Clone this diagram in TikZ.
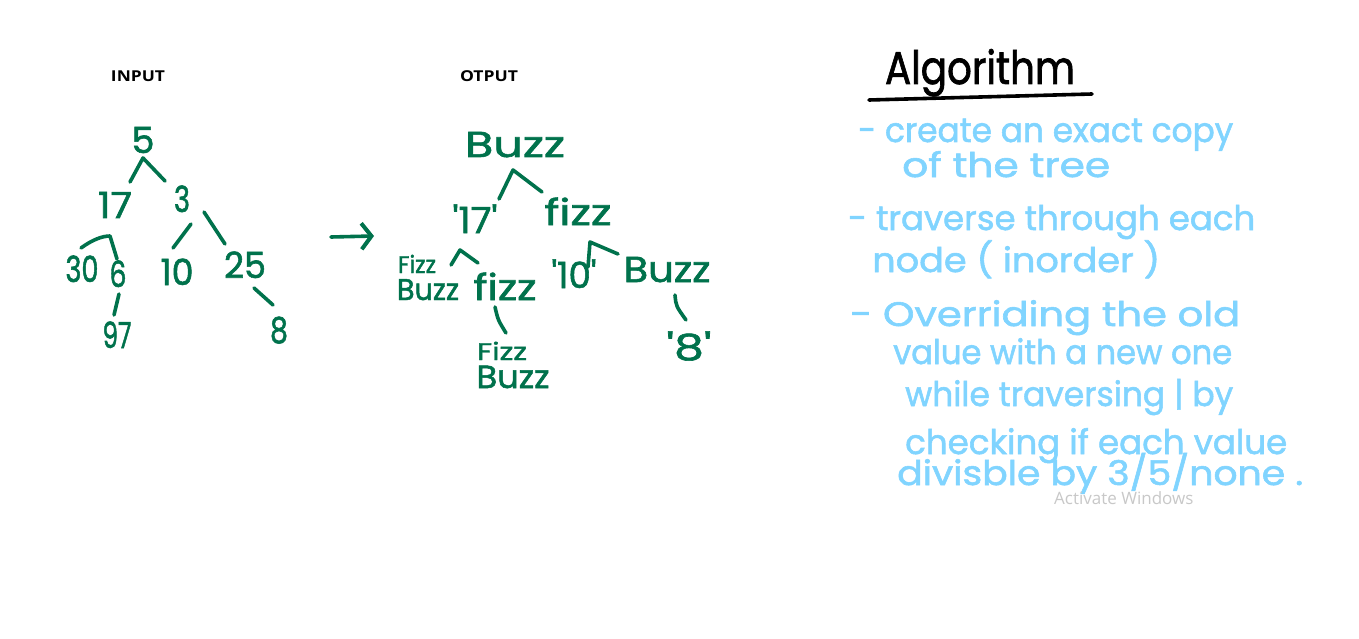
\documentclass[tikz,border=0pt]{standalone}
\usepackage{fontspec}
\usepackage{graphicx}
\setmainfont{Poppins}[FakeBold=1.6]
\newfontfamily\labfont{Open Sans}
\usetikzlibrary{arrows.meta}
\definecolor{tgreen}{RGB}{0,114,76}
\definecolor{tblue}{RGB}{128,212,255}
\definecolor{wmgray}{RGB}{200,200,200}
\newcommand{\hw}[2]{\resizebox{#1pt}{\height}{#2}}
\newcommand{\q}{\textquotesingle}
\begin{document}
\begin{tikzpicture}[x=1pt,y=-1pt,
  glab/.style={text=tgreen,inner sep=0pt,anchor=base,font=\fontsize{36}{38}\selectfont},
  gsmall/.style={glab,font=\fontsize{24}{26}\selectfont},
  blab/.style={text=tblue,inner sep=0pt,anchor=base west,font=\fontsize{34}{36}\selectfont},
  title/.style={inner sep=0pt,anchor=base,font=\labfont\bfseries\fontsize{15}{17}\selectfont},
  gstroke/.style={draw=tgreen,line width=3.6pt,line cap=round,line join=round},
  kstroke/.style={draw=black,line width=3.6pt,line cap=round}]
\useasboundingbox[fill=white] (0,0) rectangle (1359,639);

% titles
\node[title] (tin) at (138,82) {\hw{54}{INPUT}};
\node[title] (tout) at (489,82) {\hw{58}{OTPUT}};

% input tree
\node[glab] (i5) at (143,153) {\hw{23}{5}};
\node[glab] (i17) at (115,218) {\hw{34}{17}};
\node[glab] (i3) at (182,212) {\hw{16}{3}};
\node[glab] (i30) at (82,282) {\hw{33}{30}};
\node[glab] (i6) at (118,287) {\hw{17}{6}};
\node[glab] (i10) at (177,285) {\hw{33}{10}};
\node[glab] (i25) at (245,278) {\hw{42}{25}};
\node[glab] (i97) at (117,348) {\hw{29}{97}};
\node[glab] (i8) at (279,343) {\hw{18}{8}};

\draw[gstroke] (130,182) -- (143,158) -- (165,181);
\draw[gstroke] (191,224) -- (173,248);
\draw[gstroke] (204,212) -- (225,244);
\draw[gstroke] (81,248) .. controls (92,240) and (102,236) .. (110,236) -- (117,259);
\draw[gstroke] (119,294) -- (114,315);
\draw[gstroke] (254,288) -- (273,305);

% arrow
\coordinate (a1) at (331,237);
\coordinate (a2) at (374,236);
\draw[gstroke,-{Straight Barb[length=10pt,width=26pt,line width=4pt]}] (a1) -- (a2);

% output tree
\node[glab] (oB) at (515,157) {\hw{100}{Buzz}};
\node[glab] (o17) at (475,233) {\hw{45}{\q17\q}};
\node[glab] (oF) at (578,225) {\hw{67}{fizz}};
\node[gsmall] (oFBa) at (417,273) {\hw{38}{Fizz}};
\node[glab,font=\fontsize{30}{32}\selectfont] (oFBb) at (428,300) {\hw{62}{Buzz}};
\node[glab] (oF2) at (505,300) {\hw{63}{fizz}};
\node[glab] (o10) at (574,288) {\hw{45}{\q10\q}};
\node[glab] (oB2) at (667,282) {\hw{87}{Buzz}};
\node[glab] (o8) at (689,360) {\hw{45}{\q8\q}};
\node[gsmall] (oFB2a) at (502,360) {\hw{50}{Fizz}};
\node[glab,font=\fontsize{32}{34}\selectfont] (oFB2b) at (513,388) {\hw{73}{Buzz}};

\draw[gstroke] (499,199) -- (513,170) -- (542,192);
\draw[gstroke] (451,265) -- (460,250) -- (478,263);
\draw[gstroke] (588,267) -- (590,242) -- (618,254);
\draw[gstroke] (675,295) .. controls (676,306) .. (686,320);
\draw[gstroke] (495,307) .. controls (498,320) .. (506,333);

% algorithm
\node[inner sep=0pt,anchor=base,font=\fontsize{46}{48}\selectfont] (alg) at (980,84) {\hw{190}{Algorithm}};
\coordinate (u1) at (869,100);
\coordinate (u2) at (1092,94);
\draw[kstroke] (u1) -- (u2);

\node[blab] (l1) at (858,142) {\hw{375}{- create an exact copy}};
\node[blab] (l2) at (902,177) {\hw{208}{of the tree}};
\node[blab] (l3) at (848,230) {\hw{407}{- traverse through each}};
\node[blab] (l4) at (872,272) {\hw{288}{node ( inorder )}};
\node[blab] (l5) at (850,326) {\hw{390}{- Overriding the old}};
\node[blab] (l6) at (893,364) {\hw{339}{value with a new one}};
\node[blab] (l7) at (905,406) {\hw{328}{while traversing | by}};
\node[blab] (l8) at (905,454) {\hw{382}{checking if each value}};
\node[blab] (l9) at (897,485) {\hw{406}{divisble by 3/5/none .}};

% watermark
\begin{scope}
\clip (1040,484) rectangle (1230,506);
\node[text=wmgray,inner sep=0pt,anchor=base west,font=\labfont\fontsize{17}{19}\selectfont] (wm) at (1054,504) {Activate Windows};
\end{scope}
\end{tikzpicture}
\end{document}
